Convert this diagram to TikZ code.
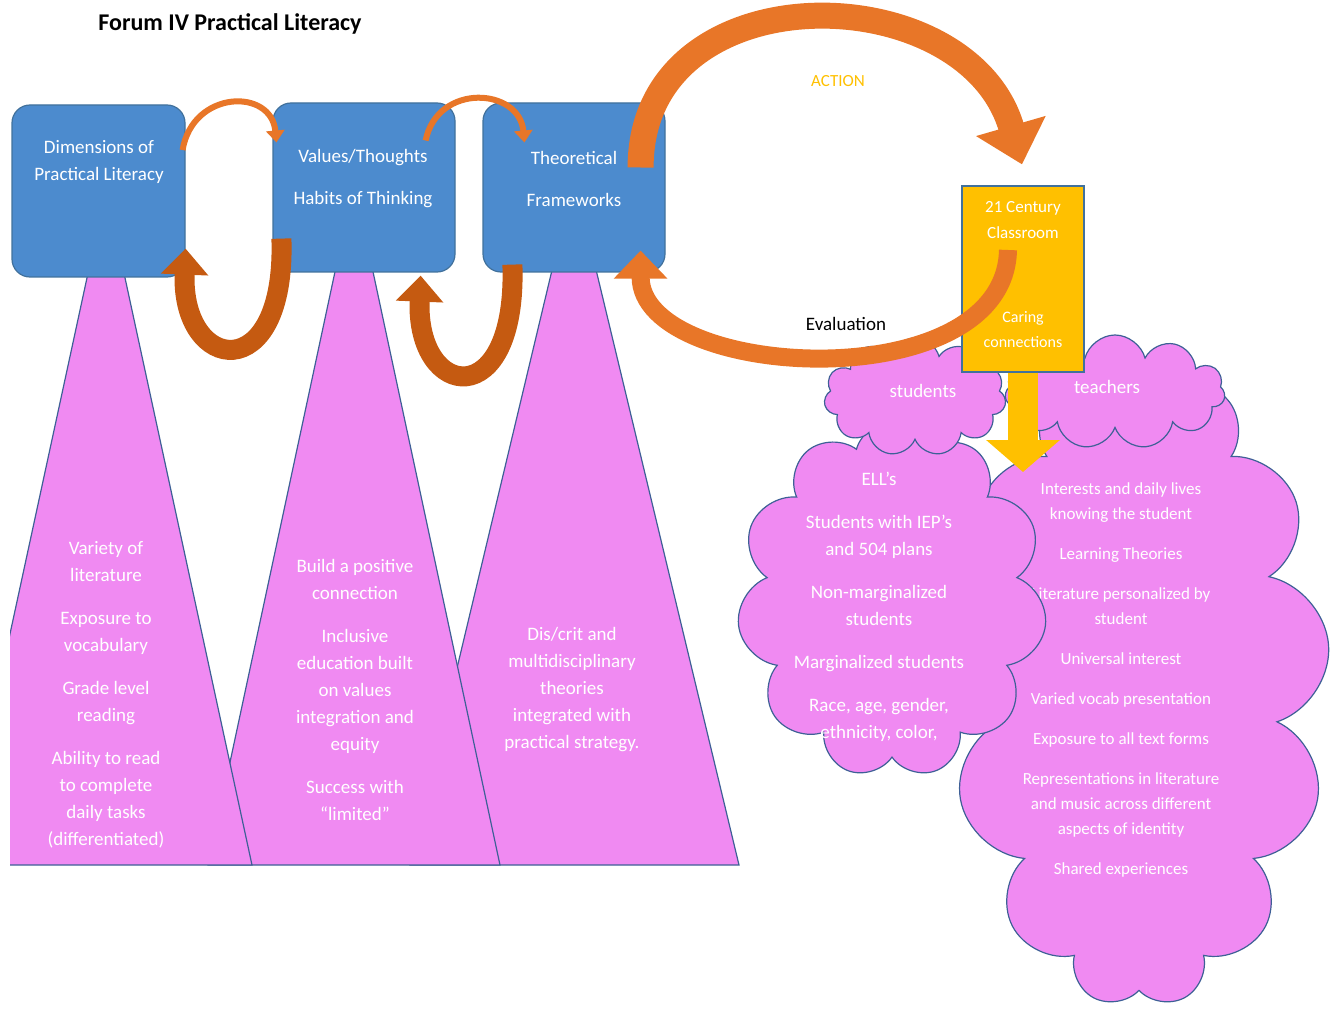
\documentclass[tikz,border=0pt]{standalone}
\usepackage{fontspec}
\setmainfont{Carlito}
\usepackage{tikz}
\usetikzlibrary{arrows.meta,shapes.symbols,calc}
\definecolor{boxblue}{RGB}{76,139,206}
\definecolor{boxline}{RGB}{65,113,156}
\definecolor{pinkfill}{RGB}{240,138,242}
\definecolor{pinkline}{RGB}{62,96,150}
\definecolor{arcorange}{RGB}{232,118,40}
\definecolor{arcbrown}{RGB}{197,90,17}
\definecolor{classyellow}{RGB}{255,192,0}
\tikzstyle{panel}=[draw=boxline, fill=boxblue, rounded corners=9pt, line width=0.6pt]
\tikzstyle{wedge}=[draw=pinkline, fill=pinkfill, line width=0.6pt]
\tikzstyle{puff}=[cloud, cloud ignores aspect, draw=pinkline, fill=pinkfill, line width=0.6pt, inner sep=0pt]
\tikzstyle{wtext}=[text=white, align=center, font=\fontsize{9.5}{13.5}\selectfont]
\tikzstyle{hop}=[draw=arcorange, line width=3pt, -{Triangle[width=9pt,length=6pt]}]
\tikzstyle{ribbon}=[draw=arcbrown, line width=10pt, -{Triangle[width=23pt,length=13pt]}]
\tikzstyle{bigarc}=[draw=arcorange, line width=13pt, -{Triangle[width=35pt,length=20pt]}]
\tikzstyle{chute}=[draw=classyellow, line width=15pt, -{Triangle[width=36pt,length=16pt]}]

\begin{document}
\begin{tikzpicture}[x=0.5pt,y=-0.5pt]
	\useasboundingbox (0,0) rectangle (1335,1011);
	\node (title) at (230, 24)[font=\fontsize{12}{15}\selectfont\bfseries] {Forum IV Practical Literacy};

	\begin{scope}
		\clip (10,0) rectangle (1335,1011);
		\draw [wedge] (574,178) -- (739,865) -- (410,865) -- cycle;
		\draw [wedge] (354,183) -- (500,865) -- (208,865) -- cycle;
		\draw [wedge] (106,190) -- (252,865) -- (-40,865) -- cycle;
	\end{scope}
	\begin{scope}
		\node (dimlist) at (106, 695)[wtext] {Variety of\\literature\\[8pt]Exposure to\\vocabulary\\[8pt]Grade level\\reading\\[8pt]Ability to read\\to complete\\daily tasks\\(differentiated)};
		\node (vtlist) at (355, 690)[wtext] {Build a positive\\connection\\[8pt]Inclusive\\education built\\on values\\integration and\\equity\\[8pt]Success with\\“limited”};
		\node (tflist) at (572, 690)[wtext] {Dis/crit and\\multidisciplinary\\theories\\integrated with\\practical strategy.};
	\end{scope}

	\begin{scope}
		\node (dim) at (98.5, 191)[panel, minimum width=86.5pt, minimum height=86pt] {};
		\node (vt) at (364, 187.5)[panel, minimum width=91pt, minimum height=84.5pt] {};
		\node (tf) at (574, 187.5)[panel, minimum width=91pt, minimum height=84.5pt] {};
		\node (dimtxt) at (99, 161.5)[wtext, font=\fontsize{9.5}{13.5}\selectfont] {Dimensions of\\Practical Literacy};
		\node (vttxt) at (363, 179)[wtext, font=\fontsize{9.5}{13.5}\selectfont] {Values/Thoughts\\[7.5pt]Habits of Thinking};
		\node (tftxt) at (574, 179)[wtext, font=\fontsize{9.5}{13.5}\selectfont] {Theoretical\\[7.5pt]Frameworks};
	\end{scope}

	\begin{scope}
		\node (tcloud) at (1139, 685)[puff, cloud puffs=13, minimum width=191pt, minimum height=322pt] {};
		\node (tlist) at (1121, 680)[wtext, font=\fontsize{8.5}{12.5}\selectfont] {Interests and daily lives\\knowing the student\\[7.5pt]Learning Theories\\[7.5pt]Literature personalized by\\student\\[7.5pt]Universal interest\\[7.5pt]Varied vocab presentation\\[7.5pt]Exposure to all text forms\\[7.5pt]Representations in literature\\and music across different\\aspects of identity\\[7.5pt]Shared experiences};
		\node (scloud) at (892, 600)[puff, cloud puffs=11, minimum width=155pt, minimum height=178pt] {};
		\node (slist) at (879, 607)[wtext] {ELL's\\[8pt]Students with IEP's\\and 504 plans\\[8pt]Non-marginalized\\students\\[8pt]Marginalized students\\[8pt]Race, age, gender,\\ethnicity, color,};
		\node (stud) at (915, 397)[puff, cloud puffs=11, minimum width=91pt, minimum height=59pt] {};
		\node (teach) at (1115, 392)[puff, cloud puffs=11, minimum width=110pt, minimum height=57pt] {};
		\node (studtxt) at (923, 391)[wtext, font=\fontsize{9.5}{13.5}\selectfont] {students};
		\node (teachtxt) at (1107, 387)[wtext, font=\fontsize{9.5}{13.5}\selectfont] {teachers};
	\end{scope}

	\begin{scope}
		\node (cc) at (1023, 279)[draw=boxline, fill=classyellow, line width=0.6pt, minimum width=61pt, minimum height=93pt] {};
		\node (cctop) at (1023, 220)[wtext, font=\fontsize{8.5}{13}\selectfont] {21 Century\\Classroom};
		\node (ccbot) at (1023, 329.5)[wtext, font=\fontsize{8}{12.5}\selectfont] {Caring\\connections};
		\coordinate (drop) at (1023, 472);
		\draw [chute] (cc.south) -- (drop);
	\end{scope}

	\begin{scope}
		\draw [hop] ($(dim.east)+(-3,-41)$) .. controls +(10,-60) and +(-5,-55) .. ($(vt.west)+(4,-45)$);
		\draw [hop] ($(vt.east)+(-30,-47)$) .. controls +(12,-58) and +(-5,-55) .. ($(tf.west)+(42,-45)$);
		\draw [ribbon] ($(vt.south west)+(9,-34)$) .. controls +(5,150) and +(-5,125) .. ($(dim.south east)+(0,-29)$);
		\draw [ribbon] ($(tf.south west)+(30,-8)$) .. controls +(5,150) and +(-5,125) .. ($(vt.south east)+(-35,3)$);
		\draw [bigarc] ($(tf.east)+(-25,-20)$) .. controls +(0,-198) and +(-55,-190) .. ($(cc.north)+(-1,-21)$);
		\draw [bigarc, line width=9pt, -{Triangle[width=26pt,length=14pt]}] ($(cc.center)+(-15,-29)$) .. controls +(-3,150) and +(0,130) .. ($(tf.south east)+(-25,-22)$);
	\end{scope}
	\node (action) at (838, 81)[text=classyellow, font=\fontsize{8.5}{12}\selectfont] {ACTION};
	\node (evaluation) at (846, 324)[font=\fontsize{9.5}{12}\selectfont] {Evaluation};
\end{tikzpicture}
\end{document}
